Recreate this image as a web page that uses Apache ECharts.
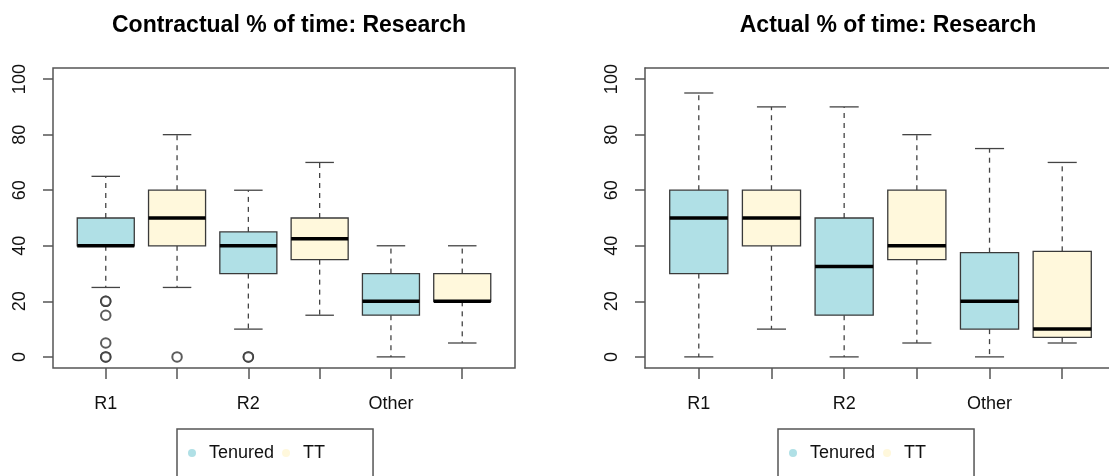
<!DOCTYPE html>
<html>
<head>
<meta charset="utf-8">
<script src="https://cdn.jsdelivr.net/npm/echarts@6/dist/echarts.min.js"></script>
<style>
html,body{margin:0;padding:0;background:#fff;}
#chart{width:1109px;height:476px;}
</style>
</head>
<body>
<div id="chart"></div>
<script>
// ---- data ----
const categories = ['R1', '', 'R2', '', 'Other', ''];
const yTicks = [0, 20, 40, 60, 80, 100];
const groupNames = ['Tenured', 'TT'];
// [low whisker, Q1, median, Q3, high whisker] for R1, R2, Other
const contractTenured = [[25, 40, 40, 50, 65], [10, 30, 40, 45, 60], [0, 15, 20, 30, 40]];
const contractTT      = [[25, 40, 50, 60, 80], [15, 35, 42.5, 50, 70], [5, 20, 20, 30, 40]];
const actualTenured   = [[0, 30, 50, 60, 95], [0, 15, 32.5, 50, 90], [0, 10, 20, 37.5, 75]];
const actualTT        = [[10, 40, 50, 60, 90], [5, 35, 40, 60, 80], [5, 7, 10, 38, 70]];
// outliers: [category position (1..6), value]
const contractOutliers = [[1, 20], [1, 20], [1, 15], [1, 5], [1, 0], [1, 0], [2, 0], [3, 0], [3, 0]];
const actualOutliers = [];

const COL_TEN = '#b0e0e6';
const COL_TT = '#fff8dc';
const FRAME = '#555';
const FONT = '"Liberation Sans", Arial, sans-serif';

function toRows(stats, offset) {
  return stats.map((s, i) => [2 * i + 1 + offset].concat(s));
}

function renderBox(params, api) {
  const x = api.value(0);
  const low = api.value(1), q1 = api.value(2), med = api.value(3), q3 = api.value(4), high = api.value(5);
  const w = api.size([0.8, 0])[0];
  const cw = api.size([0.4, 0])[0];
  const pLow = api.coord([x, low]);
  const pQ1 = api.coord([x, q1]);
  const pMed = api.coord([x, med]);
  const pQ3 = api.coord([x, q3]);
  const pHigh = api.coord([x, high]);
  const cx = pMed[0];
  const fill = api.visual('color');
  const dash = {stroke: '#444', lineWidth: 1.3, lineDash: [5, 5]};
  const solid = {stroke: '#444', lineWidth: 1.3};
  return {
    type: 'group',
    children: [
      {type: 'line', shape: {x1: cx, y1: pQ3[1], x2: cx, y2: pHigh[1]}, style: dash},
      {type: 'line', shape: {x1: cx, y1: pQ1[1], x2: cx, y2: pLow[1]}, style: dash},
      {type: 'line', shape: {x1: cx - cw / 2, y1: pHigh[1], x2: cx + cw / 2, y2: pHigh[1]}, style: solid},
      {type: 'line', shape: {x1: cx - cw / 2, y1: pLow[1], x2: cx + cw / 2, y2: pLow[1]}, style: solid},
      {type: 'rect', shape: {x: cx - w / 2, y: pQ3[1], width: w, height: pQ1[1] - pQ3[1]},
        style: {fill: fill, stroke: '#3a3a3a', lineWidth: 1.3}},
      {type: 'line', shape: {x1: cx - w / 2, y1: pMed[1], x2: cx + w / 2, y2: pMed[1]},
        style: {stroke: '#000', lineWidth: 3.5}}
    ]
  };
}

function xAxisFor(gi, showLine) {
  return {
    type: 'value', gridIndex: gi, min: 0.26, max: 6.74, position: 'bottom',
    splitLine: {show: false},
    axisLine: {show: showLine, onZero: false, lineStyle: {color: FRAME, width: 1.5}},
    axisTick: {show: true, length: 11, customValues: [1, 2, 3, 4, 5, 6], lineStyle: {color: FRAME, width: 1.5}},
    axisLabel: {
      show: true, customValues: [1, 3, 5], margin: 27,
      formatter: v => categories[Math.round(v) - 1],
      color: '#111', fontSize: 18, fontFamily: FONT
    }
  };
}
function topFrameAxis(gi) {
  return {
    type: 'value', gridIndex: gi, min: 0.26, max: 6.74, position: 'top',
    splitLine: {show: false},
    axisLine: {show: true, onZero: false, lineStyle: {color: FRAME, width: 1.5}},
    axisTick: {show: false}, axisLabel: {show: false}
  };
}
function yAxisFor(gi, showLine) {
  return {
    type: 'value', gridIndex: gi, min: -4, max: 104, position: 'left',
    splitLine: {show: false},
    axisLine: {show: showLine, onZero: false, lineStyle: {color: FRAME, width: 1.5}},
    axisTick: {show: true, length: 10, customValues: yTicks, lineStyle: {color: FRAME, width: 1.5}},
    axisLabel: {
      show: true, customValues: yTicks, rotate: 90, margin: 24,
      color: '#111', fontSize: 18, fontFamily: FONT
    }
  };
}

function legendFor(left) {
  return {
    left: left, top: 429,
    orient: 'horizontal',
    icon: 'circle',
    itemWidth: 24, itemHeight: 8, itemGap: 8,
    padding: [15, 48, 40, 11],
    borderColor: FRAME, borderWidth: 1.5, borderRadius: 0,
    textStyle: {color: '#111', fontSize: 18, fontFamily: FONT, lineHeight: 18},
    data: [
      {name: 'Tenured', itemStyle: {color: COL_TEN, borderWidth: 0}},
      {name: 'TT', itemStyle: {color: COL_TT, borderWidth: 0}}
    ],
    selectedMode: false
  };
}

const chart = echarts.init(document.getElementById('chart'), null, {renderer: 'canvas'});
chart.setOption({
  animation: false,
  backgroundColor: '#fff',
  title: [
    {text: 'Contractual % of time: Research', left: 284, top: 9, textAlign: 'center',
      textStyle: {fontSize: 23, fontWeight: 'bold', color: '#000', fontFamily: FONT}},
    {text: 'Actual % of time: Research', left: 883, top: 9, textAlign: 'center',
      textStyle: {fontSize: 23, fontWeight: 'bold', color: '#000', fontFamily: FONT}}
  ],
  legend: [legendFor(177), legendFor(778)],
  grid: [
    {left: 53, top: 68, width: 462, height: 300, show: true, borderColor: FRAME, borderWidth: 1.5,
      backgroundColor: 'transparent', outerBoundsMode: 'none', containLabel: false},
    {left: 645, top: 68, width: 471, height: 300, show: false,
      outerBoundsMode: 'none', containLabel: false}
  ],
  xAxis: [xAxisFor(0, false), xAxisFor(1, true), topFrameAxis(1)],
  yAxis: [yAxisFor(0, false), yAxisFor(1, true)],
  series: [
    {name: 'Tenured', type: 'custom', xAxisIndex: 0, yAxisIndex: 0, itemStyle: {color: COL_TEN},
      renderItem: renderBox, data: toRows(contractTenured, 0), encode: {x: 0, y: [1, 2, 3, 4, 5]}},
    {name: 'TT', type: 'custom', xAxisIndex: 0, yAxisIndex: 0, itemStyle: {color: COL_TT},
      renderItem: renderBox, data: toRows(contractTT, 1), encode: {x: 0, y: [1, 2, 3, 4, 5]}},
    {name: 'Tenured', type: 'custom', xAxisIndex: 1, yAxisIndex: 1, itemStyle: {color: COL_TEN},
      renderItem: renderBox, data: toRows(actualTenured, 0), encode: {x: 0, y: [1, 2, 3, 4, 5]}},
    {name: 'TT', type: 'custom', xAxisIndex: 1, yAxisIndex: 1, itemStyle: {color: COL_TT},
      renderItem: renderBox, data: toRows(actualTT, 1), encode: {x: 0, y: [1, 2, 3, 4, 5]}},
    {name: 'outliers1', type: 'scatter', xAxisIndex: 0, yAxisIndex: 0, symbol: 'emptyCircle', symbolSize: 9.5,
      itemStyle: {color: '#333', borderColor: '#333', borderWidth: 1.4}, data: contractOutliers},
    {name: 'outliers2', type: 'scatter', xAxisIndex: 1, yAxisIndex: 1, symbol: 'emptyCircle', symbolSize: 9.5,
      itemStyle: {color: '#333', borderColor: '#333', borderWidth: 1.4}, data: actualOutliers}
  ]
});
</script>
</body>
</html>
